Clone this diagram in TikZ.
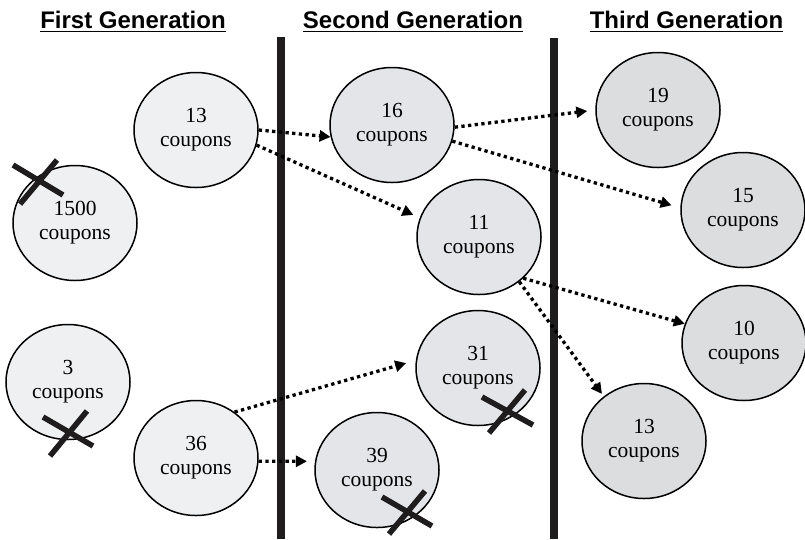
\documentclass[tikz,border=0pt]{standalone}
\usepackage{fontspec}
\setmainfont{Liberation Serif}
\newfontfamily\headfont{Liberation Sans}
\usetikzlibrary{shapes.geometric,arrows.meta}
\definecolor{genA}{RGB}{239,240,242}
\definecolor{genB}{RGB}{228,229,232}
\definecolor{genC}{RGB}{220,221,223}
\definecolor{barc}{RGB}{30,28,28}
\tikzset{
  coup/.style={ellipse, draw=black, line width=1.5pt, minimum width=124pt, minimum height=115pt, inner sep=0pt, align=center, font=\fontsize{21.5}{24}\selectfont},
  gA/.style={coup, fill=genA},
  gB/.style={coup, fill=genB},
  gC/.style={coup, fill=genC},
  arr/.style={line width=3.3pt, dash pattern=on 3.3pt off 3.4pt, -{Triangle[length=11pt,width=11pt]}},
  cross/.style={line width=5.5pt, draw=barc},
  head/.style={font=\headfont\bfseries\fontsize{24}{28}\selectfont, inner sep=0pt, anchor=base},
  uline/.style={line width=1.5pt},
  barbox/.style={fill=barc, draw=none}
}
\begin{document}
\begin{tikzpicture}[x=1pt,y=-1pt]
\useasboundingbox (0,0) rectangle (805,539);
% separators
\fill[barbox] (277,37) rectangle (285,539);
\fill[barbox] (550,38) rectangle (558,539);
% first generation
\node[gA] (n13a) at (196,130) {13\\coupons};
\node[gA] (n1500) at (75,223) {1500\\coupons};
\node[gA] (n3) at (68,382) {3\\coupons};
\node[gA] (n36) at (196,458) {36\\coupons};
% second generation
\node[gB] (n16) at (392,125) {16\\coupons};
\node[gB] (n11) at (479,237) {11\\coupons};
\node[gB] (n31) at (478,368) {31\\coupons};
\node[gB] (n39) at (377,470) {39\\coupons};
% third generation
\node[gC] (n19) at (658,110) {19\\coupons};
\node[gC] (n15) at (743,210) {15\\coupons};
\node[gC] (n10) at (744,343) {10\\coupons};
\node[gC] (n13c) at (644,441) {13\\coupons};
% connectors
\draw[arr] (n13a.0) -- (n16.191);
\draw[arr, shorten >=7pt] (n13a.-14) -- (n11.162);
\draw[arr, shorten >=8pt] (n16.-2) -- (n19.180);
\draw[arr, shorten >=9pt] (n16.-15) -- (n15.178);
\draw[arr] (n11.-43) -- (n10.162);
\draw[arr, shorten >=3pt] (n11.-48) -- (n13c.132);
\draw[arr, shorten >=10pt] (n36.50) -- (n31.173);
\draw[arr, shorten >=8pt] (n36.-3) -- (n39.172);
% crosses
\draw[cross] (13,165) -- (63,195);
\draw[cross] (57,160) -- (20,204);
\draw[cross] (43,417) -- (93,446);
\draw[cross] (87,411) -- (50,456);
\draw[cross] (482,397) -- (533,425);
\draw[cross] (525,390) -- (489,433);
\draw[cross] (382,497) -- (432,526);
\draw[cross] (425,491) -- (389,534);
% headings
\node[head] (h1) at (133,28) {First Generation};
\node[head] (h2) at (413,28) {Second Generation};
\node[head] (h3) at (686.5,28) {Third Generation};
\draw[uline] ([yshift=-3.5pt]h1.base west) -- ([yshift=-3.5pt]h1.base east);
\draw[uline] ([yshift=-3.5pt]h2.base west) -- ([yshift=-3.5pt]h2.base east);
\draw[uline] ([yshift=-3.5pt]h3.base west) -- ([yshift=-3.5pt]h3.base east);
\end{tikzpicture}
\end{document}
